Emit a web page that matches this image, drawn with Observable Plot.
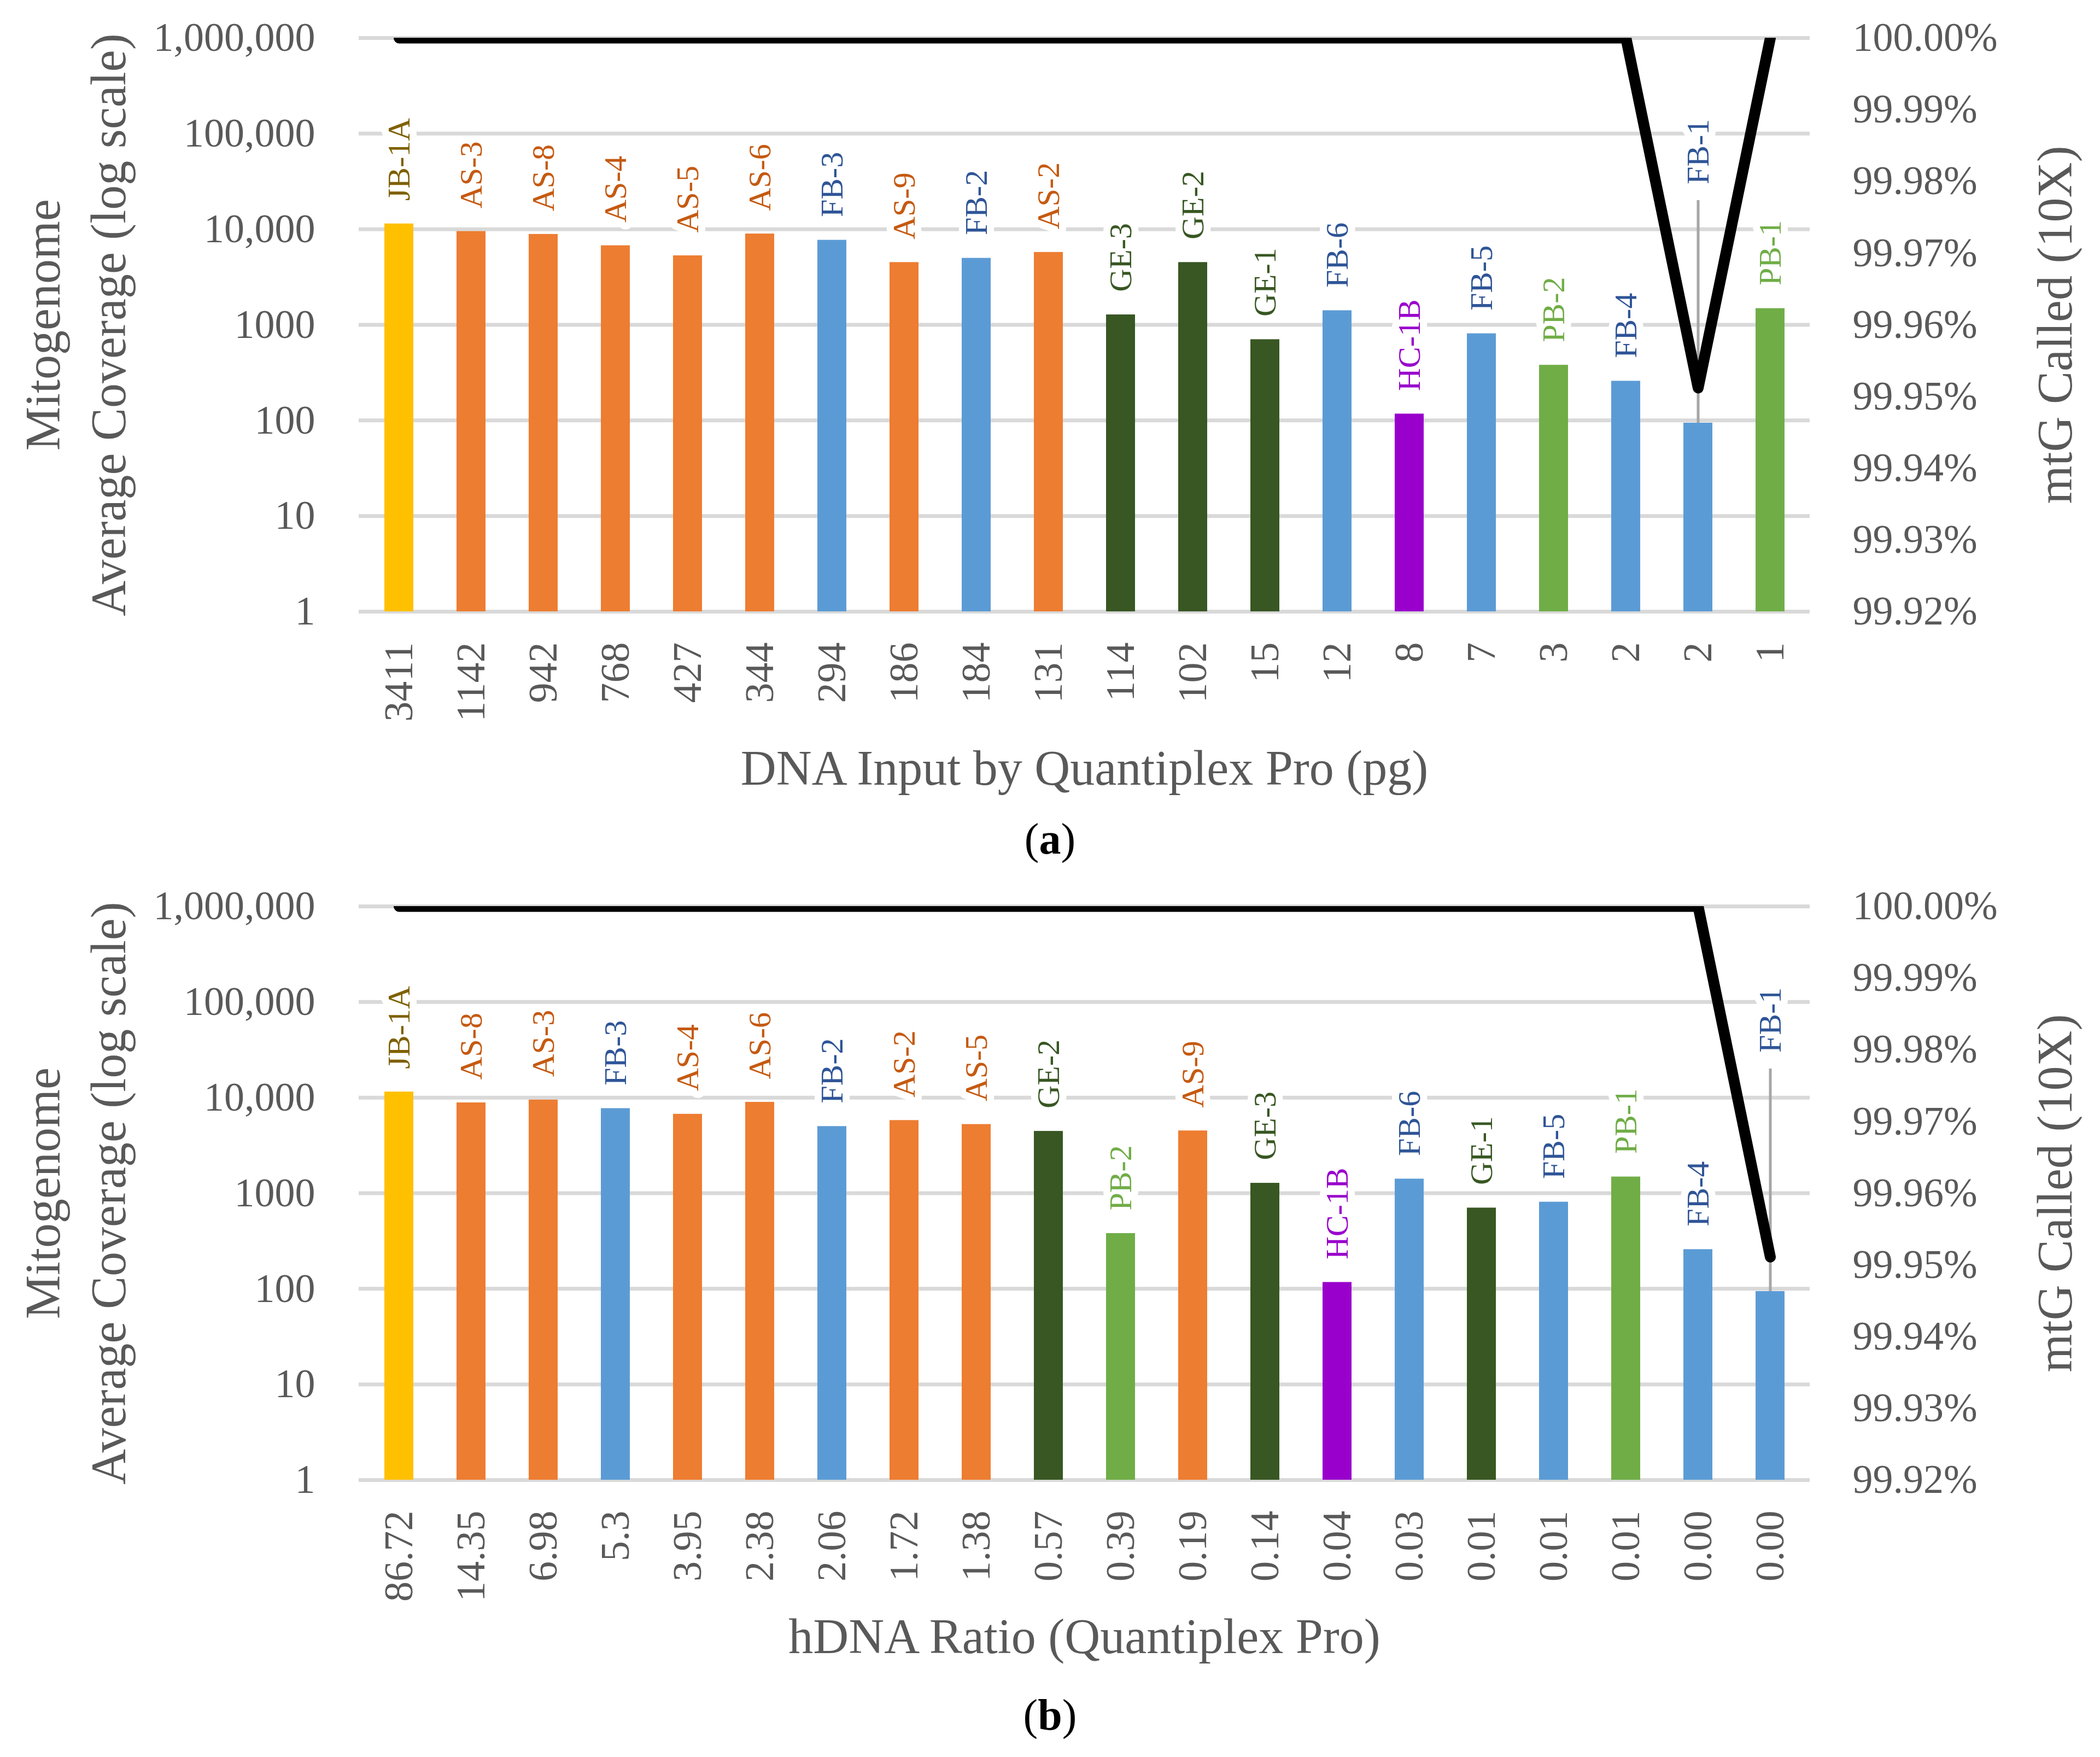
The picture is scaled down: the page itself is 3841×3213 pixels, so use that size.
<!DOCTYPE html>
<html>
<head>
<meta charset="utf-8">
<script src="https://cdn.jsdelivr.net/npm/d3@7"></script>
<script src="https://cdn.jsdelivr.net/npm/@observablehq/plot@0.6"></script>
<style>
  body { margin: 0; background: #fff; overflow: hidden; }
  .cap { font-family: "Liberation Serif", serif; font-size: 80px; text-align: center; color: #000; height: 108px; line-height: 108px; }
  .cap.b { padding-top: 14px; }
</style>
</head>
<body>
<div id="chart_a"></div>
<div class="cap">(<b>a</b>)</div>
<div id="chart_b"></div>
<div class="cap b">(<b>b</b>)</div>
<script>
// panel (a): samples ordered by DNA input
const samplesA = ["JB-1A", "AS-3", "AS-8", "AS-4", "AS-5", "AS-6", "FB-3", "AS-9", "FB-2", "AS-2",
  "GE-3", "GE-2", "GE-1", "FB-6", "HC-1B", "FB-5", "PB-2", "FB-4", "FB-1", "PB-1"];
const inputPg = ["3411", "1142", "942", "768", "427", "344", "294", "186", "184", "131",
  "114", "102", "15", "12", "8", "7", "3", "2", "2", "1"];
const coverageA = [11400, 9500, 8860, 6740, 5290, 8950, 7690, 4500, 4980, 5740,
  1275, 4500, 702, 1410, 117, 809, 379, 258, 94, 1483];
const calledA = [100, 100, 100, 100, 100, 100, 100, 100, 100, 100,
  100, 100, 100, 100, 100, 100, 100, 100, 99.9512, 100];

// panel (b): samples ordered by hDNA ratio
const samplesB = ["JB-1A", "AS-8", "AS-3", "FB-3", "AS-4", "AS-6", "FB-2", "AS-2", "AS-5", "GE-2",
  "PB-2", "AS-9", "GE-3", "HC-1B", "FB-6", "GE-1", "FB-5", "PB-1", "FB-4", "FB-1"];
const hdnaRatio = ["86.72", "14.35", "6.98", "5.3", "3.95", "2.38", "2.06", "1.72", "1.38", "0.57",
  "0.39", "0.19", "0.14", "0.04", "0.03", "0.01", "0.01", "0.01", "0.00", "0.00"];
const coverageB = [11480, 8840, 9470, 7700, 6720, 8960, 5000, 5780, 5250, 4450,
  380, 4500, 1275, 117, 1410, 702, 809, 1483, 258, 94];
const calledB = [100, 100, 100, 100, 100, 100, 100, 100, 100, 100,
  100, 100, 100, 100, 100, 100, 100, 100, 100, 99.9511];

const covTicks = [1, 10, 100, 1000, 10000, 100000, 1000000];
const pctTicks = [99.92, 99.93, 99.94, 99.95, 99.96, 99.97, 99.98, 99.99, 100.00];

// FB-1 label is pulled up with a leader line
const fb1LabelAt = 29500;
const fb1LeaderTop = 20000;

const barColors = {JB: "#FFC000", AS: "#ED7D31", FB: "#5B9BD5", GE: "#385723", HC: "#9900CC", PB: "#70AD47"};
const labelColors = {JB: "#7F6000", AS: "#C55A11", FB: "#2F5597", GE: "#385723", HC: "#9900CC", PB: "#70AD47"};

// right axis (99.92% - 100%) mapped onto the log coverage scale
const pctToCov = p => 10 ** ((p - 99.92) / 0.08 * 6);

const font = "Liberation Serif";
const grey = "#595959";

function panel(samples, ticks, coverage, called, xTitle) {
  const rows = samples.map((s, i) => ({
    sample: s, tick: ticks[i], coverage: coverage[i], called: pctToCov(called[i]), grp: s.slice(0, 2)
  }));
  const tickOf = new Map(rows.map(d => [d.sample, d.tick]));
  const fb1 = rows.filter(d => d.sample === "FB-1");
  const others = rows.filter(d => d.sample !== "FB-1");

  return Plot.plot({
    width: 3841,
    height: 1480,
    marginTop: 69,
    marginBottom: 362,
    marginLeft: 656,
    marginRight: 531,
    style: {fontFamily: font, background: "white"},
    x: {type: "band", domain: samples, paddingInner: 0.6, paddingOuter: 0.3, label: null},
    y: {type: "log", domain: [1, 1000000], label: null},
    marks: [
      Plot.ruleY(covTicks, {stroke: "#D9D9D9", strokeWidth: 7}),
      Plot.barY(rows, {x: "sample", y1: 1, y2: "coverage", fill: d => barColors[d.grp]}),
      Plot.ruleX(fb1, {x: "sample", y1: "coverage", y2: () => fb1LeaderTop, stroke: "#A6A6A6", strokeWidth: 5}),
      Plot.text(others, {
        x: "sample", y: "coverage", text: "sample", rotate: -90, textAnchor: "start", lineAnchor: "middle",
        dy: -42, fontSize: 58, fill: d => labelColors[d.grp], stroke: "white", strokeWidth: 26
      }),
      Plot.text(fb1, {
        x: "sample", y: () => fb1LabelAt, text: "sample", rotate: -90, textAnchor: "start", lineAnchor: "middle",
        fontSize: 58, fill: d => labelColors[d.grp], stroke: "white", strokeWidth: 26
      }),
      // thick line, clipped at the top of the plot area like the original
      Plot.line(rows, {x: "sample", y: "called", stroke: "black", strokeWidth: 20, clip: true}),
      Plot.axisY(covTicks, {
        anchor: "left", tickSize: 0, tickPadding: 80, fontSize: 74, color: grey,
        tickFormat: d => d >= 10000 ? d3.format(",")(d) : String(d)
      }),
      // right-hand percent labels drawn as text (log axis would drop some)
      Plot.text(pctTicks, {
        y: d => pctToCov(d), text: d => d.toFixed(2) + "%", frameAnchor: "right",
        textAnchor: "start", dx: 78, fontSize: 74, fill: grey
      }),
      Plot.axisX({
        tickSize: 0, tickPadding: 56, tickRotate: -90, fontSize: 74, color: grey,
        tickFormat: d => tickOf.get(d)
      }),
      Plot.text([xTitle], {frameAnchor: "bottom", dy: 288, fontSize: 90, fill: grey, lineAnchor: "middle"}),
      Plot.text(["Mitogenome\nAverage Coverage (log scale)"], {
        frameAnchor: "left", dx: -526, rotate: -90, textAnchor: "middle", lineAnchor: "middle",
        fontSize: 90, lineHeight: 1.34, fill: grey
      }),
      Plot.text(["mtG Called (10X)"], {
        frameAnchor: "right", dx: 450, rotate: -90, textAnchor: "middle", lineAnchor: "middle",
        fontSize: 90, fill: grey
      })
    ]
  });
}

d3.select("#chart_a").append(() => panel(samplesA, inputPg, coverageA, calledA, "DNA Input by Quantiplex Pro (pg)"));
d3.select("#chart_b").append(() => panel(samplesB, hdnaRatio, coverageB, calledB, "hDNA Ratio (Quantiplex Pro)"));
</script>
</body>
</html>
